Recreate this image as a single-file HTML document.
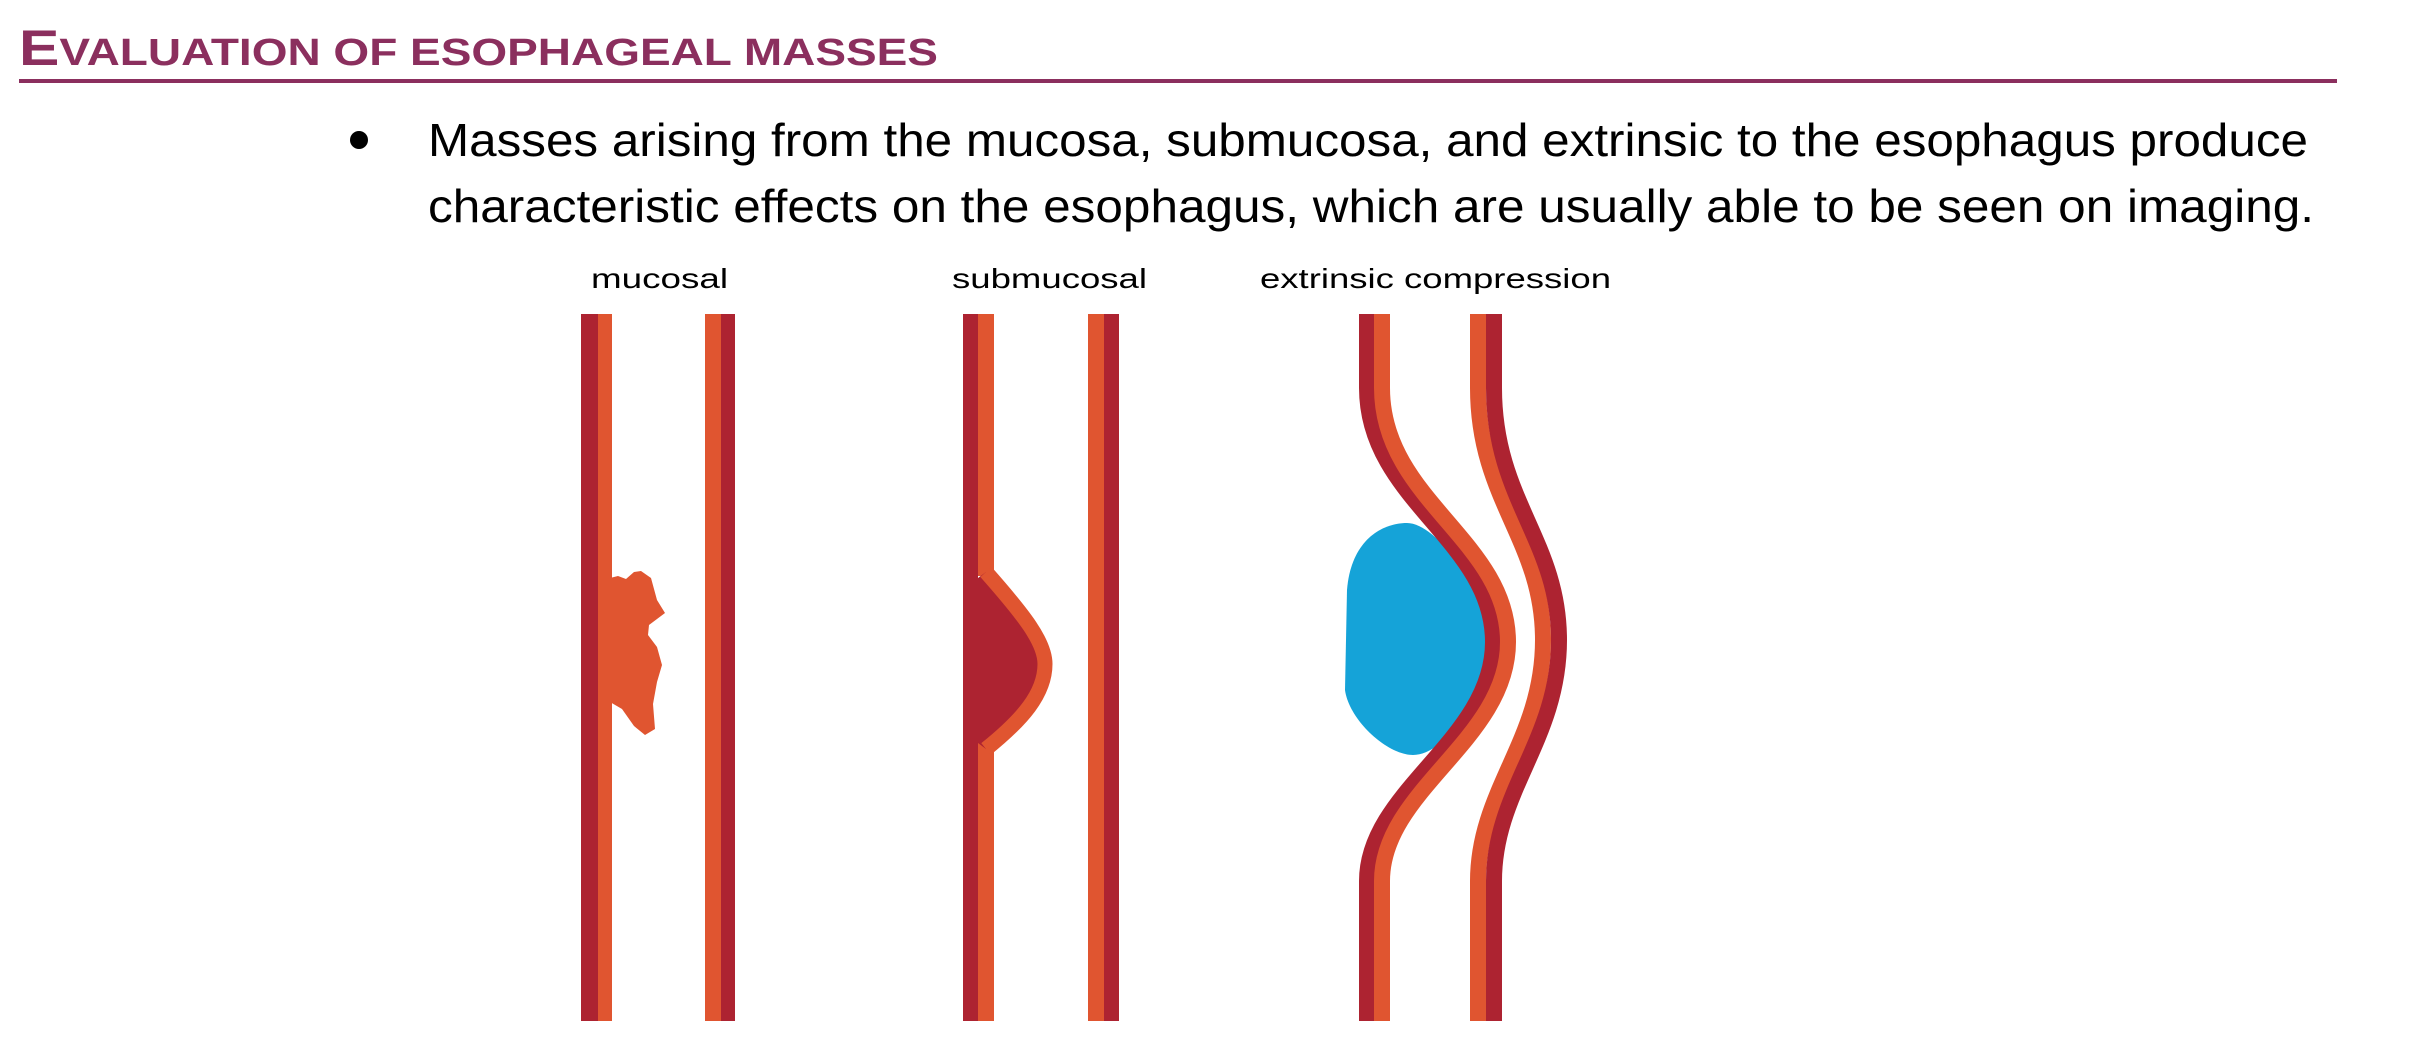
<!DOCTYPE html>
<html><head><meta charset="utf-8"><style>
html,body{margin:0;padding:0;background:#fff;}
svg{display:block;}
</style></head><body>
<svg width="2428" height="1046" viewBox="0 0 2428 1046" xmlns="http://www.w3.org/2000/svg">
  <g font-family="Liberation Sans, sans-serif" font-weight="bold" fill="#8B2F5E">
    <text x="19" y="65" font-size="50" textLength="919" lengthAdjust="spacingAndGlyphs">E<tspan font-size="38">VALUATION OF ESOPHAGEAL MASSES</tspan></text>
  </g>
  <rect x="19" y="79" width="2318" height="4" fill="#8B2F5E"/>
  <circle cx="359" cy="140" r="9" fill="#000"/>
  <g font-family="Liberation Sans, sans-serif" font-size="46" fill="#000">
    <text x="428" y="156" textLength="1880" lengthAdjust="spacingAndGlyphs">Masses arising from the mucosa, submucosa, and extrinsic to the esophagus produce</text>
    <text x="428" y="222" textLength="1886" lengthAdjust="spacingAndGlyphs">characteristic effects on the esophagus, which are usually able to be seen on imaging.</text>
  </g>
  <g font-family="Liberation Sans, sans-serif" font-size="28" fill="#000">
    <text x="591" y="288" textLength="137" lengthAdjust="spacingAndGlyphs">mucosal</text>
    <text x="952" y="288" textLength="195" lengthAdjust="spacingAndGlyphs">submucosal</text>
    <text x="1260" y="288" textLength="351" lengthAdjust="spacingAndGlyphs">extrinsic compression</text>
  </g>

  <g transform="translate(-3,0)">
    <rect x="584" y="314" width="17" height="707" fill="#AD2331"/>
    <rect x="601" y="314" width="14" height="707" fill="#E05530"/>
    <rect x="708" y="314" width="16" height="707" fill="#E05530"/>
    <rect x="724" y="314" width="14" height="707" fill="#AD2331"/>
    <path fill="#E05530" d="M611 578 L613 578 L621 576 L629 579 L637 572 L644 571 L654 578 L660 600 L668 613 L652 625 L651 635 L660 647 L665 665 L660 682 L656 704 L658 729 L648 735 L637 726 L625 709 L613 702 L611 702 Z"/>
  </g>

  <g transform="translate(-8,0)">
    <rect x="971" y="314" width="15" height="707" fill="#AD2331"/>
    <rect x="986" y="314" width="16" height="262" fill="#E05530"/>
    <rect x="986" y="743" width="16" height="278" fill="#E05530"/>
    <path fill="#AD2331" d="M986 578 L994 572 C1032 615 1053 642 1053 664 C1053 694 1030 720 994 749 L986 743 Z"/>
    <path fill="none" stroke="#E05530" stroke-width="15" d="M994 572 C1032 615 1053 642 1053 664 C1053 694 1030 720 994 749"/>
    <rect x="1096" y="314" width="16" height="707" fill="#E05530"/>
    <rect x="1112" y="314" width="15" height="707" fill="#AD2331"/>
  </g>

  <g fill="none" transform="translate(-15,0)">
    <path fill="#15A3D8" stroke="none" d="M1362 590 C1366 540 1397 523 1422 523 C1454 523 1505 600 1505 642 C1505 690 1462 755 1428 755 C1402 755 1364 720 1360 690 Z"/>
    <path stroke="#AD2331" stroke-width="16" d="M1382 314 V388 C1382 500 1508 540 1508 642 C1508 740 1382 790 1382 881 V1021"/>
    <path stroke="#E05530" stroke-width="16" d="M1397 314 V388 C1397 500 1523 540 1523 642 C1523 740 1397 790 1397 881 V1021"/>
    <path stroke="#E05530" stroke-width="16" d="M1493 314 V388 C1493 500 1558 540 1558 640 C1558 740 1493 790 1493 881 V1021"/>
    <path stroke="#AD2331" stroke-width="16" d="M1509 314 V388 C1509 500 1574 540 1574 640 C1574 740 1509 790 1509 881 V1021"/>
  </g>
</svg>
</body></html>
